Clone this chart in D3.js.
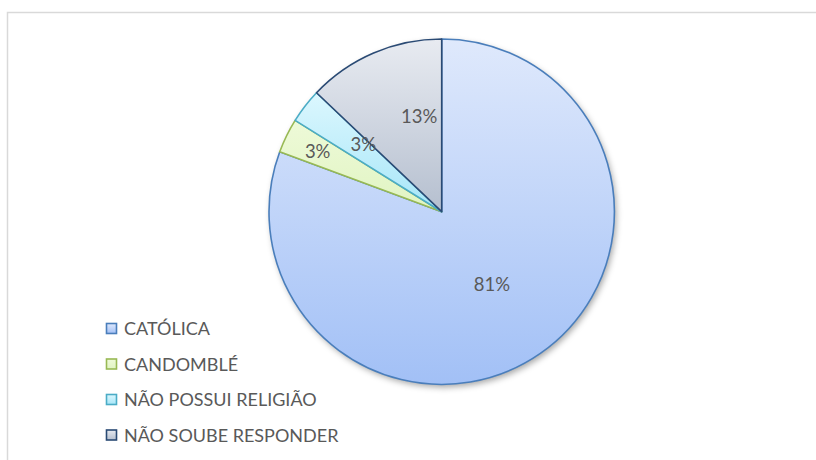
<!DOCTYPE html>
<html><head><meta charset="utf-8">
<script src="https://cdn.jsdelivr.net/npm/d3@7"></script>
<style>body{margin:0;background:#fff}svg{display:block}</style>
</head><body>
<svg id="c" width="816" height="460"></svg>
<script>
const categories = ["CATÓLICA", "CANDOMBLÉ", "NÃO POSSUI RELIGIÃO", "NÃO SOUBE RESPONDER"];
const values = [25, 1, 1, 4];
const labels = ["81%", "3%", "3%", "13%"];

const fillTop = ["#dfe9fc", "#eefad8", "#dcf7fe", "#e8ebf1"];
const fillBot = ["#a2c0f6", "#e0f4c2", "#a6e6f8", "#b5bfcf"];
const strokes = ["#4a7ebb", "#98b954", "#4bacc6", "#2a4a74"];
const labelR = [0.51, 0.80, 0.60, 0.57];
const labelShift = [0, 0, 3, 10];

const svg = d3.select("#c");
const defs = svg.append("defs");
categories.forEach((c, i) => {
  const g = defs.append("linearGradient").attr("id", "g" + i)
    .attr("x1", 0).attr("y1", 0).attr("x2", 0).attr("y2", 1);
  g.append("stop").attr("offset", "0%").attr("stop-color", fillTop[i]);
  g.append("stop").attr("offset", "100%").attr("stop-color", fillBot[i]);
});
const f = defs.append("filter").attr("id", "sh").attr("x", "-20%").attr("y", "-20%").attr("width", "140%").attr("height", "140%");
f.append("feDropShadow").attr("dx", 2).attr("dy", 3).attr("stdDeviation", 3).attr("flood-color", "#000").attr("flood-opacity", 0.35);

// chart border
svg.append("rect").attr("x", 7.5).attr("y", 12.5).attr("width", 830).attr("height", 460)
  .attr("fill", "none").attr("stroke", "#d9d9d9").attr("stroke-width", 1.5);

const cx = 441.7, cy = 211.7, r = 172.7;
const pie = d3.pie().sort(null).value(d => d);
const arcs = pie(values);
const arc = d3.arc().innerRadius(0).outerRadius(r);

const g = svg.append("g").attr("transform", `translate(${cx},${cy})`);
g.append("circle").attr("r", r).attr("fill", "#fff").attr("filter", "url(#sh)");
g.selectAll("path.s").data(arcs).enter().append("path").attr("class", "s")
  .attr("d", arc)
  .attr("fill", (d, i) => `url(#g${i})`)
  .attr("stroke", (d, i) => strokes[i])
  .attr("stroke-width", 1.6)
  .attr("stroke-linejoin", "round");

g.selectAll("text.l").data(arcs).enter().append("text").attr("class", "l")
  .attr("transform", (d, i) => {
    const a = (d.startAngle + d.endAngle) / 2 + labelShift[i] * Math.PI / 180;
    const rr = r * labelR[i];
    return `translate(${rr * Math.sin(a)},${-rr * Math.cos(a)})`;
  })
  .attr("text-anchor", "middle").attr("dy", "0.36em")
  .attr("font-family", "Lato, 'Open Sans', sans-serif").attr("font-size", 18.5)
  .attr("fill", "#595959")
  .text((d, i) => labels[i]);

// legend
const leg = svg.append("g").attr("transform", "translate(106,329)");
const item = leg.selectAll("g").data(categories).enter().append("g")
  .attr("transform", (d, i) => `translate(0,${i * 35.5})`);
item.append("rect").attr("x", 0.5).attr("y", -5.5).attr("width", 10).attr("height", 10)
  .attr("fill", (d, i) => `url(#g${i})`).attr("stroke", (d, i) => strokes[i]).attr("stroke-width", 1.6);
item.append("text").attr("x", 18).attr("dy", "0.36em")
  .attr("font-family", "Lato, 'Open Sans', sans-serif").attr("font-size", 18)
  .attr("fill", "#595959").text(d => d);
</script>
</body></html>
